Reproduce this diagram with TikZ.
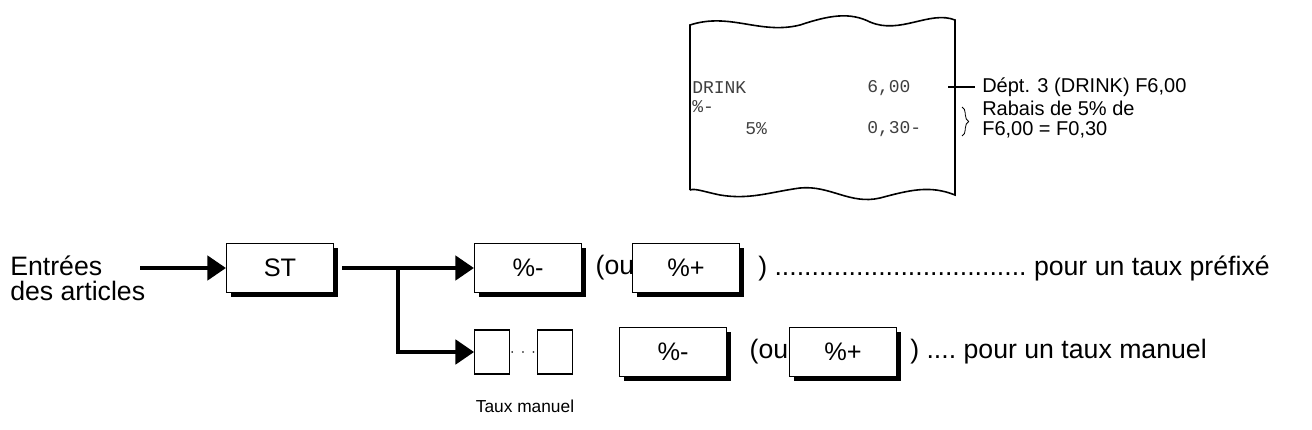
\documentclass[tikz,border=0pt]{standalone}
\usepackage{fontspec}
\setmainfont{Liberation Sans}
\newfontfamily\mono{Liberation Mono}
\usetikzlibrary{decorations.pathreplacing,arrows.meta}
\begin{document}
\begin{tikzpicture}[x=0.75pt,y=-0.75pt,
  key/.style={draw,line width=1pt,minimum width=80pt,minimum height=37pt,inner sep=0pt,font=\fontsize{19}{22}\selectfont,
    append after command={\pgfextra{\draw[line width=3pt] ([xshift=1.5pt,yshift=-4pt]\tikzlastnode.north east)--([xshift=1.5pt,yshift=-1.5pt]\tikzlastnode.south east)--([xshift=4pt,yshift=-1.5pt]\tikzlastnode.south west);}}},
  small/.style={draw,line width=0.8pt,minimum width=26pt,minimum height=33pt,inner sep=0pt},
  txt/.style={font=\fontsize{20}{23}\selectfont,inner sep=0pt},
  rc/.style={font=\mono\fontsize{13.5}{15}\selectfont,text=black!75,inner sep=0pt,anchor=west},
  ann/.style={font=\fontsize{15}{17}\selectfont,inner sep=0pt,anchor=west},
  arr/.style={line width=3.5pt,-{Triangle[length=14pt,width=18pt]}}]
\useasboundingbox (0,0) rectangle (1312,429);
% receipt
\draw[line width=1.2pt] (690,190) -- (690,25)
  .. controls (730,12) and (760,35) .. (800,25)
  .. controls (830,15) and (850,12) .. (870,22)
  .. controls (900,35) and (930,10) .. (955,20) -- (955,195)
  .. controls (930,185) and (910,190) .. (880,198)
  .. controls (850,205) and (830,185) .. (800,188)
  .. controls (770,192) and (750,200) .. (720,195)
  .. controls (705,192) and (695,188) .. (690,190);
\node[rc] (r1) at (692,88) {DRINK};
\node[rc] (r2) at (867,88) {6,00};
\node[rc] (r3) at (692,107) {\%-};
\node[rc] (r4) at (745,129) {5\%};
\node[rc] (r5) at (867,129) {0,30-};
\coordinate (t1) at (948,87);
\coordinate (t2) at (975,87);
\draw[line width=0.8pt] (t1) -- (t2);
\coordinate (b1) at (962,107);
\coordinate (b2) at (962,136);
\draw[line width=0.6pt,decorate,decoration={brace,amplitude=5pt,mirror}] (b2) -- (b1);
\node[ann] (a1) at (982,87) {Dépt. 3 (DRINK) F6,00};
\node[ann] (a2) at (982,108) {Rabais de 5\% de};
\node[ann] (a3) at (982,130) {F6,00 = F0,30};
% flow
\node[txt,anchor=west] (e1) at (10,266) {Entrées};
\node[txt,anchor=west] (e2) at (10,291) {des articles};
\coordinate (s0) at (140,268);
\node[key] (st) at (280,268) {ST};
\draw[arr] (s0) -- (st.west);
\node[key] (m1) at (528,268) {\%-};
\node[txt] (ou1) at (615,268) {(ou};
\node[key] (p1) at (686,268) {\%+};
\node[txt,anchor=west] (r1t) at (758,268) {) ..................................\ pour un taux préfixé};
\coordinate (j) at (398,268);
\coordinate (j2) at (398,352);
\node[small] (k1) at (492,352) {};
\node[small] (k2) at (555,352) {};
\node[inner sep=0pt,font=\large] (dots) at (523,353) {$\cdot\,\cdot\,\cdot$};
\draw[line width=3.5pt] (st.east) ++(6pt,0) -- (j);
\draw[arr] (j) -- (m1.west);
\draw[line width=3.5pt] ([yshift=1.3pt]j) -- (j2);
\draw[arr] ([xshift=-1.3pt]j2) -- (k1.west);
\node[key] (m2) at (673,352) {\%-};
\node[txt] (ou2) at (769,352) {(ou};
\node[key] (p2) at (843,352) {\%+};
\node[txt,anchor=west] (r2t) at (910,352) {) ....\ pour un taux manuel};
\node[font=\fontsize{13}{15}\selectfont] (tm) at (525,406) {Taux manuel};
\end{tikzpicture}
\end{document}
